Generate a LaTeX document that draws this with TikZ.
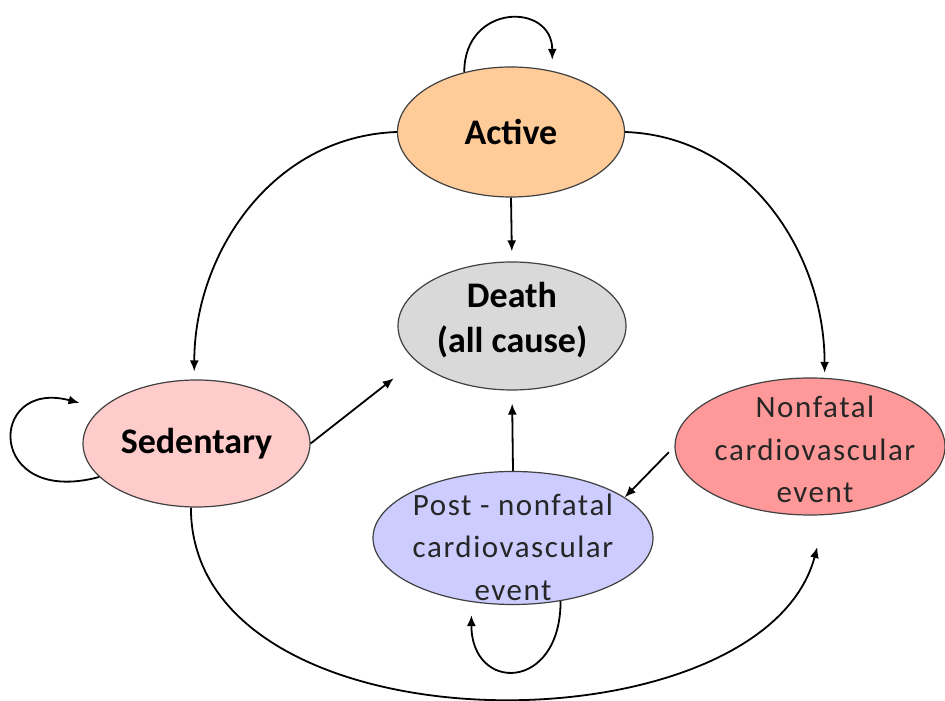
\documentclass[tikz,border=0pt]{standalone}
\usepackage{fontspec}
\setmainfont{Carlito}
\usetikzlibrary{shapes.geometric,arrows.meta}
\definecolor{activefill}{HTML}{FFCC99}
\definecolor{sedfill}{HTML}{FFCCCC}
\definecolor{deathfill}{HTML}{D9D9D9}
\definecolor{nonfatalfill}{HTML}{FF9999}
\definecolor{postfill}{HTML}{CCCCFF}
\begin{document}
\begin{tikzpicture}[x=1pt, y=1pt,
  state/.style={ellipse, draw=black!75, line width=1.2pt, inner sep=0pt},
  bigtxt/.style={font=\fontsize{36}{45}\selectfont\bfseries, align=center},
  cvtxt/.style={font=\fontsize{31}{42.5}\selectfont\addfontfeature{LetterSpace=5}, text=black!85, align=center},
  arr/.style={-{Latex[length=11pt,width=9pt]}, line width=1.8pt}]
\useasboundingbox (0,0) rectangle (945,701);

\node[state, fill=activefill, minimum width=227pt, minimum height=130pt] (active) at (511,569) {};
\node[state, fill=deathfill, minimum width=228pt, minimum height=128pt] (death) at (512,375) {};
\node[state, fill=sedfill, minimum width=227pt, minimum height=127pt] (sed) at (196.5,257.5) {};
\node[state, fill=nonfatalfill, minimum width=270pt, minimum height=137pt] (nonfatal) at (810,254.5) {};
\node[state, fill=postfill, minimum width=280pt, minimum height=133pt] (post) at (513,163) {};

\node[bigtxt] (active-l) at (active) {Active};
\node[bigtxt] (death-l) at ([yshift=6pt]death.center) {Death\\(all cause)};
\node[bigtxt] (sed-l) at (sed) {Sedentary};
\node[cvtxt] (nonfatal-l) at ([xshift=5pt,yshift=-3pt]nonfatal.center) {Nonfatal\\cardiovascular\\event};
\node[cvtxt] (post-l) at ([yshift=-9pt]post.center) {Post - nonfatal\\cardiovascular\\event};

\draw[arr, shorten >=11pt] (active.128) to[out=90, in=90, looseness=2] (active.56);
\draw[arr, shorten >=22pt] (sed.199) to[out=195, in=165, looseness=4.4] (sed.160);
\draw[arr, shorten >=13pt] (post.307) to[out=-90, in=-90, looseness=2.6] (post.237);

\draw[arr, shorten >=8pt] (active.west) to[out=182, in=90] (sed.92);
\draw[arr, shorten >=5pt] (active.east) to[out=-2, in=90] (nonfatal.78);
\draw[arr, shorten >=10pt] (active.south) -- (death.north);
\draw[arr, shorten >=28pt] (sed.east) -- (death.200);
\draw[arr, shorten >=13pt] (post.north) -- (death.south);
\draw[arr, shorten <=8pt] (nonfatal.west) -- (post.20);
\draw[arr, shorten >=33pt] (sed.265) to[out=-90, in=-105, looseness=1] (nonfatal.283);
\end{tikzpicture}
\end{document}
